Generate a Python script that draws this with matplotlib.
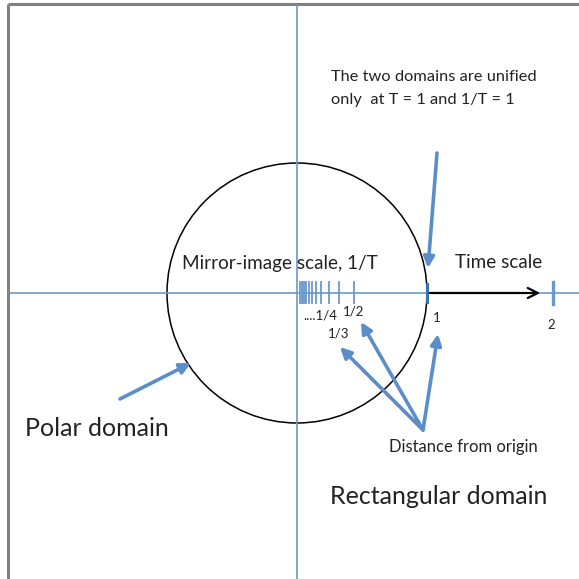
import matplotlib.pyplot as plt
from matplotlib.patches import Circle

# diagram coordinates are in pixels of the original sketch (y grows downwards)
origin = (297, 293)
circle_radius = 130

# 1/T ticks (mirror-image scale), dense towards the origin
mirror_ticks = [300, 301.5, 303, 304.5, 306, 308.5, 312, 316, 321, 329, 339, 354]
mirror_labels = ['....1/4', '1/2', '1/3']
mirror_label_pos = [(320, 316), (354, 312), (339, 334)]

# T ticks (time scale)
time_ticks = [427, 553]
time_labels = ['1', '2']
time_label_pos = [(437, 318), (551, 325)]

# blue annotation arrows: (start, end)
arrows = [
    ((437, 153), (428, 268)),
    ((120, 399), (191, 363)),
    ((423, 430), (340, 347)),
    ((423, 430), (361, 322)),
    ((423, 430), (438, 334)),
]

blue = '#6a97cc'
arrow_blue = '#5b8ec8'
ink = '#222222'

fig = plt.figure(figsize=(5.79, 5.79), dpi=100)
ax = fig.add_axes([0, 0, 1, 1])
ax.set_xlim(0, 579)
ax.set_ylim(579, 0)
ax.axis('off')

# frame (top and left only)
ax.plot([8, 579], [4, 4], color='#808080', lw=2.2, solid_capstyle='butt')
ax.plot([8, 8], [4, 579], color='#808080', lw=2.2, solid_capstyle='butt')

# axes lines
ax.plot([10, 579], [origin[1], origin[1]], color=blue, lw=1.2)
ax.plot([origin[0], origin[0]], [5, 579], color=blue, lw=1.2)

# circle
ax.add_patch(Circle(origin, circle_radius, fill=False, ec='black', lw=1.1))

# time scale arrow
ax.annotate('', xy=(543, origin[1]), xytext=(427, origin[1]),
            arrowprops=dict(arrowstyle='->', color='black', lw=1.6, mutation_scale=18))

# ticks
for x in mirror_ticks:
    ax.plot([x, x], [282, 303], color=blue, lw=1.3)
ax.plot([time_ticks[0]] * 2, [284, 302], color='#3d6fa8', lw=2.2)
ax.plot([time_ticks[1]] * 2, [282, 304], color=blue, lw=2.4)

for t, (x, y) in zip(mirror_labels, mirror_label_pos):
    ax.text(x, y, t, fontsize=9.5, family='Lato', ha='center', va='center', color=ink)
for t, (x, y) in zip(time_labels, time_label_pos):
    ax.text(x, y, t, fontsize=9.5, family='Lato', ha='center', va='center', color=ink)

# blue arrows
for (x0, y0), (x1, y1) in arrows:
    ax.annotate('', xy=(x1, y1), xytext=(x0, y0),
                arrowprops=dict(arrowstyle='-|>', color=arrow_blue, lw=2.6,
                                mutation_scale=16, shrinkA=0, shrinkB=0))

# texts
ax.text(182, 263, 'Mirror-image scale, 1/T', fontsize=13.6, family='Lato', va='center', color=ink)
ax.text(455, 262, 'Time scale', fontsize=13.6, family='Lato', va='center', color=ink)
ax.text(331, 77, 'The two domains are unified', fontsize=11.8, family='Lato', va='center', color=ink)
ax.text(331, 100, 'only  at T = 1 and 1/T = 1', fontsize=11.8, family='Lato', va='center', color=ink)
ax.text(25, 428, 'Polar domain', fontsize=18, family='Lato', va='center', color=ink)
ax.text(389, 447, 'Distance from origin', fontsize=12, family='Lato', va='center', color=ink)
ax.text(330, 497, 'Rectangular domain', fontsize=18, family='Lato', va='center', color=ink)

fig.savefig('out.png', dpi=100)
